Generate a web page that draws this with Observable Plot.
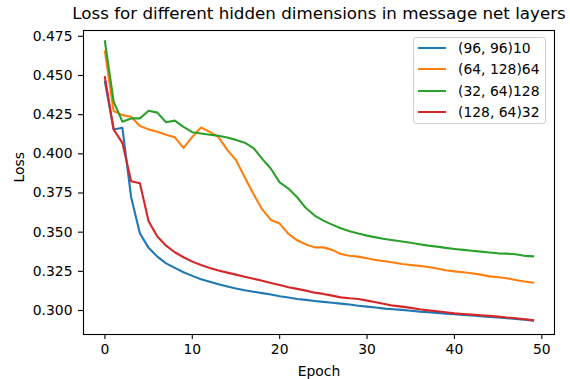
<!DOCTYPE html>
<html>
<head>
<meta charset="utf-8">
<script src="https://cdn.jsdelivr.net/npm/d3@7"></script>
<script src="https://cdn.jsdelivr.net/npm/@observablehq/plot@0.6"></script>
<style>
  html, body { margin: 0; padding: 0; background: #fff; }
  #wrap { position: relative; width: 570px; height: 379px; font-family: "DejaVu Sans", sans-serif; }
  #legend {
    position: absolute; left: 413px; top: 37px; width: 133px; height: 87px;
    border: 1px solid #d0d0d0; border-radius: 3px; background: rgba(255,255,255,0.8);
    box-sizing: border-box; font-size: 13.9px; color: #000;
  }
  .row { position: absolute; left: 4px; height: 16px; display: flex; align-items: center; }
  .sw { width: 28px; height: 2px; margin-right: 12px; }
</style>
</head>
<body>
<div id="wrap"></div>
<script>
const epochs = [0,1,2,3,4,5,6,7,8,9,10,11,12,13,14,15,16,17,18,19,20,21,22,23,24,25,26,27,28,29,30,31,32,33,34,35,36,37,38,39,40,41,42,43,44,45,46,47,48,49];

const seriesNames = ["(96, 96)10", "(64, 128)64", "(32, 64)128", "(128, 64)32"];
const seriesColors = ["#1f77b4", "#ff7f0e", "#2ca02c", "#d62728"];

const loss_96_96_10 = [0.4461,0.4155,0.4166,0.3723,0.3493,0.3400,0.3344,0.3301,0.3272,0.3244,0.3221,0.3199,0.3183,0.3167,0.3153,0.3140,0.3129,0.3120,0.3111,0.3102,0.3091,0.3083,0.3074,0.3068,0.3061,0.3055,0.3050,0.3044,0.3038,0.3031,0.3025,0.3019,0.3012,0.3008,0.3004,0.2999,0.2993,0.2989,0.2985,0.2980,0.2976,0.2972,0.2968,0.2963,0.2959,0.2955,0.2951,0.2947,0.2942,0.2936];
const loss_64_128_64 = [0.4654,0.4273,0.4247,0.4237,0.4177,0.4156,0.4141,0.4122,0.4105,0.4038,0.4108,0.4168,0.4140,0.4106,0.4025,0.3960,0.3850,0.3744,0.3645,0.3578,0.3555,0.3489,0.3448,0.3422,0.3403,0.3403,0.3387,0.3361,0.3350,0.3344,0.3333,0.3323,0.3314,0.3306,0.3297,0.3291,0.3285,0.3278,0.3268,0.3257,0.3250,0.3244,0.3238,0.3229,0.3218,0.3212,0.3206,0.3195,0.3185,0.3178];
const loss_32_64_128 = [0.4718,0.4333,0.4205,0.4226,0.4226,0.4275,0.4263,0.4201,0.4212,0.4172,0.4138,0.4130,0.4122,0.4115,0.4104,0.4089,0.4071,0.4037,0.3968,0.3905,0.3818,0.3778,0.3723,0.3654,0.3606,0.3574,0.3548,0.3525,0.3506,0.3491,0.3478,0.3467,0.3457,0.3448,0.3440,0.3432,0.3423,0.3414,0.3408,0.3400,0.3393,0.3387,0.3381,0.3376,0.3370,0.3365,0.3363,0.3359,0.3349,0.3346];
const loss_128_64_32 = [0.4489,0.4155,0.4070,0.3825,0.3812,0.3570,0.3472,0.3414,0.3372,0.3340,0.3312,0.3291,0.3272,0.3255,0.3242,0.3229,0.3216,0.3203,0.3190,0.3176,0.3163,0.3148,0.3138,0.3127,0.3114,0.3106,0.3095,0.3084,0.3078,0.3074,0.3063,0.3053,0.3042,0.3031,0.3025,0.3017,0.3008,0.3001,0.2995,0.2989,0.2982,0.2978,0.2974,0.2970,0.2966,0.2961,0.2955,0.2951,0.2944,0.2938];

const xTicks = [0, 10, 20, 30, 40, 50];
const yTicks = [0.300, 0.325, 0.350, 0.375, 0.400, 0.425, 0.450, 0.475];

const title = "Loss for different hidden dimensions in message net layers";
const xLabel = "Epoch";
const yLabel = "Loss";

const allSeries = [loss_96_96_10, loss_64_128_64, loss_32_64_128, loss_128_64_32];
const rows = [];
allSeries.forEach((vals, i) => {
  vals.forEach((v, j) => rows.push({series: seriesNames[i], epoch: epochs[j], loss: v}));
});

const fontSize = 13.9;
const chart = Plot.plot({
  width: 570,
  height: 379,
  marginTop: 30,
  marginBottom: 45,
  marginLeft: 83,
  marginRight: 16,
  style: {fontFamily: "DejaVu Sans, sans-serif", fontSize: fontSize + "px", color: "#000", background: "#fff"},
  x: {domain: [-2.45, 51.45]},
  y: {domain: [0.2847, 0.4787]},
  color: {domain: seriesNames, range: seriesColors},
  marks: [
    Plot.line(rows, {x: "epoch", y: "loss", z: "series", stroke: "series", strokeWidth: 2.1, strokeLinejoin: "round", strokeLinecap: "square"}),
    Plot.frame({stroke: "#000", strokeWidth: 1.1}),
    Plot.axisX({ticks: xTicks, tickSize: 5, tickPadding: 5, tickFormat: d3.format("d"), label: null, fontSize: fontSize, strokeWidth: 1.1}),
    Plot.axisY({ticks: yTicks, tickSize: 5, tickPadding: 6, tickFormat: d3.format(".3f"), label: null, fontSize: fontSize, strokeWidth: 1.1}),
    Plot.text([title], {frameAnchor: "top", lineAnchor: "bottom", dy: -12, fontSize: 16.7, fill: "#000"}),
    Plot.text([xLabel], {frameAnchor: "bottom", lineAnchor: "bottom", dy: 41, fontSize: fontSize, fill: "#000"}),
    Plot.text([yLabel], {frameAnchor: "left", rotate: -90, dx: -64, fontSize: fontSize, fill: "#000"})
  ]
});

const wrap = document.getElementById("wrap");
wrap.appendChild(chart);

const legend = document.createElement("div");
legend.id = "legend";
seriesNames.forEach((name, i) => {
  const r = document.createElement("div");
  r.className = "row";
  r.style.top = (2 + i * 21.4) + "px";
  const sw = document.createElement("span");
  sw.className = "sw";
  sw.style.background = seriesColors[i];
  const t = document.createElement("span");
  t.textContent = name;
  r.appendChild(sw);
  r.appendChild(t);
  legend.appendChild(r);
});
wrap.appendChild(legend);
</script>
</body>
</html>
